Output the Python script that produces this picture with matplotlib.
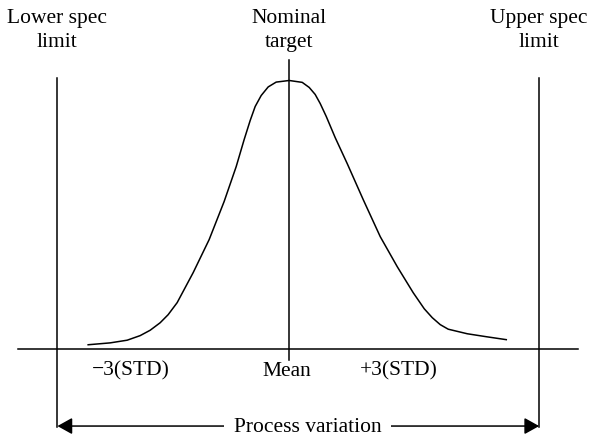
import matplotlib
matplotlib.use("Agg")
import matplotlib.pyplot as plt

# process distribution, x in units of standard deviation, y relative to peak
curve_x = [-2.871, -2.557, -2.314, -2.129, -1.986, -1.843, -1.729, -1.600, -1.371, -1.143,
           -0.929, -0.757, -0.643, -0.557, -0.486, -0.400, -0.300, -0.186, 0.0,
           0.186, 0.286, 0.371, 0.443, 0.529, 0.657, 0.829, 1.057, 1.300, 1.543,
           1.771, 1.929, 2.043, 2.157, 2.271, 2.543, 2.814, 3.100]
curve_y = [0.015, 0.022, 0.032, 0.049, 0.069, 0.097, 0.127, 0.172, 0.284, 0.407,
           0.549, 0.679, 0.780, 0.851, 0.903, 0.944, 0.976, 0.994, 1.0,
           0.993, 0.974, 0.948, 0.914, 0.866, 0.787, 0.690, 0.556, 0.418, 0.306,
           0.209, 0.149, 0.116, 0.090, 0.073, 0.056, 0.045, 0.034]

mean = 0.0
lower_spec = -3.31
upper_spec = 3.57

top_labels = [("Lower spec", "limit"), ("Nominal", "target"), ("Upper spec", "limit")]
top_label_x = [lower_spec, mean, upper_spec]
bottom_labels = ["\u22123(STD)", "Mean", "+3(STD)"]
bottom_label_x = [-2.26, -0.03, 1.56]

plt.rcParams['font.family'] = ['Liberation Serif', 'DejaVu Serif']
fs = 15.5
lw = 1.1

fig = plt.figure(figsize=(5.91, 4.40), dpi=100)
ax = fig.add_axes([0, 0, 1, 1])
ax.set_xlim(-4.13, 4.31)
ax.set_ylim(-0.34, 1.30)
ax.axis('off')

# baseline
ax.plot([-3.87, 4.13], [0, 0], color='black', lw=lw)
# spec limits and nominal target
ax.plot([lower_spec, lower_spec], [-0.291, 1.011], color='black', lw=lw)
ax.plot([upper_spec, upper_spec], [-0.291, 1.011], color='black', lw=lw)
ax.plot([mean, mean], [-0.041, 1.078], color='black', lw=lw)

# distribution curve
ax.plot(curve_x, curve_y, color='black', lw=lw, solid_joinstyle='round')

# labels above
for (l1, l2), x in zip(top_labels, top_label_x):
    ax.text(x, 1.216, l1, ha='center', va='baseline', fontsize=fs)
    ax.text(x, 1.123, l2, ha='center', va='baseline', fontsize=fs)

# labels under the baseline
for lab, x in zip(bottom_labels, bottom_label_x):
    ax.text(x, -0.101, lab, ha='center', va='baseline', fontsize=fs)

# process variation arrow
ax.annotate('', xy=(lower_spec, -0.288), xytext=(upper_spec, -0.288),
            arrowprops=dict(arrowstyle='<|-|>,head_length=0.45,head_width=0.25',
                            mutation_scale=20, color='black', lw=lw,
                            shrinkA=0, shrinkB=0))
ax.text(0.26, -0.310, "Process variation", ha='center', va='baseline', fontsize=fs,
        bbox=dict(boxstyle='square,pad=0.45', facecolor='white', edgecolor='none'))

fig.savefig('out.png', dpi=100)
